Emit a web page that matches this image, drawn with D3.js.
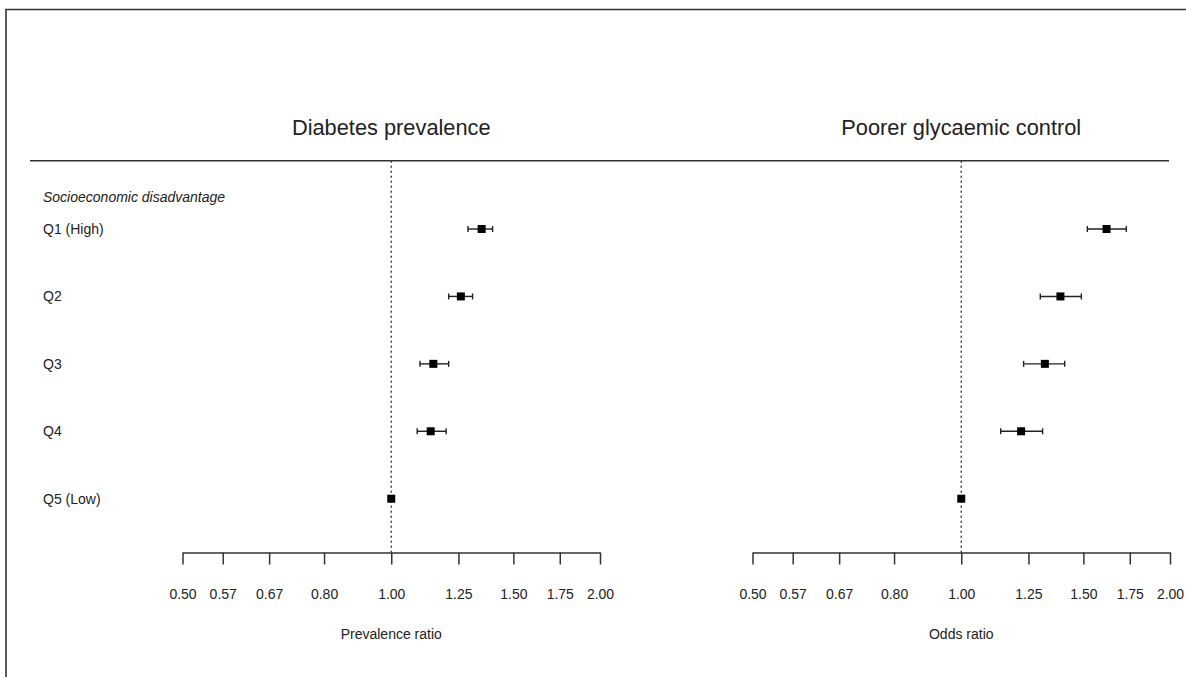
<!DOCTYPE html>
<html>
<head>
<meta charset="utf-8">
<script src="https://cdn.jsdelivr.net/npm/d3@7"></script>
<style>
  body { margin: 0; background: #fff; }
  svg { display: block; font-family: "Liberation Sans", Arial, sans-serif; }
</style>
</head>
<body>
<div id="chart"></div>
<script>
const rows = ["Q1 (High)", "Q2", "Q3", "Q4", "Q5 (Low)"];
const header = "Socioeconomic disadvantage";

const prevEst = [1.35, 1.26, 1.15, 1.14, 1.00];
const prevLo = [1.29, 1.21, 1.10, 1.09, 1.00];
const prevHi = [1.40, 1.31, 1.21, 1.20, 1.00];

const ctrlEst = [1.62, 1.39, 1.32, 1.22, 1.00];
const ctrlLo = [1.52, 1.30, 1.23, 1.14, 1.00];
const ctrlHi = [1.73, 1.49, 1.41, 1.31, 1.00];

const tickValues = [0.50, 1 / 1.75, 1 / 1.5, 1 / 1.25, 1.00, 1.25, 1.50, 1.75, 2.00];

const width = 1186, height = 677;
const ink = "#333";

const svg = d3.select("#chart").append("svg")
    .attr("width", width)
    .attr("height", height);

// frame (top and left edges are all that show)
svg.append("path")
    .attr("d", `M6,${height} L6,9.5 L${width},9.5`)
    .attr("fill", "none")
    .attr("stroke", ink)
    .attr("stroke-width", 1.6);

const y = d3.scalePoint()
    .domain(rows)
    .range([229, 498.7]);

const axisY = 552.5;
const topY = 160.7;

// header rule
svg.append("line")
    .attr("x1", 30).attr("x2", 1169)
    .attr("y1", topY).attr("y2", topY)
    .attr("stroke", ink)
    .attr("stroke-width", 1.5);

// row labels
svg.append("text")
    .attr("x", 43)
    .attr("y", y(rows[0]) - y.step() * 0.47)
    .attr("dy", "0.35em")
    .attr("font-size", 14)
    .attr("font-style", "italic")
    .attr("fill", "#222")
    .text(header);

svg.selectAll(".rowLabel")
    .data(rows)
    .enter().append("text")
    .attr("class", "rowLabel")
    .attr("x", 43)
    .attr("y", d => y(d))
    .attr("dy", "0.35em")
    .attr("font-size", 14)
    .attr("fill", "#222")
    .text(d => d);

const panels = [
    {title: "Diabetes prevalence", label: "Prevalence ratio", range: [182.5, 600], est: prevEst, lo: prevLo, hi: prevHi},
    {title: "Poorer glycaemic control", label: "Odds ratio", range: [752.5, 1170], est: ctrlEst, lo: ctrlLo, hi: ctrlHi}
];

panels.forEach(function (p) {
    const x = d3.scaleLog().domain([0.5, 2]).range(p.range);
    const g = svg.append("g");

    g.append("text")
        .attr("x", x(1))
        .attr("y", 135)
        .attr("text-anchor", "middle")
        .attr("font-size", 21.8)
        .attr("fill", "#222")
        .text(p.title);

    // reference line at 1
    g.append("line")
        .attr("x1", x(1)).attr("x2", x(1))
        .attr("y1", topY).attr("y2", axisY)
        .attr("stroke", "#444")
        .attr("stroke-width", 1.5)
        .attr("stroke-dasharray", "2,3");

    const axis = g.append("g")
        .attr("transform", `translate(0,${axisY})`)
        .call(d3.axisBottom(x)
            .tickValues(tickValues)
            .tickFormat(d3.format(".2f"))
            .tickSize(12)
            .tickSizeOuter(0)
            .tickPadding(25));
    axis.select(".domain").attr("stroke", ink).attr("stroke-width", 1.5);
    axis.selectAll(".tick line").attr("stroke", ink).attr("stroke-width", 1.5);
    axis.selectAll(".tick text")
        .attr("font-size", 14)
        .attr("fill", "#222")
        .attr("font-family", "Liberation Sans, Arial, sans-serif");

    g.append("text")
        .attr("x", x(1))
        .attr("y", 639)
        .attr("text-anchor", "middle")
        .attr("font-size", 14)
        .attr("fill", "#222")
        .text(p.label);

    const data = rows.map((r, i) => ({row: r, est: p.est[i], lo: p.lo[i], hi: p.hi[i]}));

    const ci = g.selectAll(".ci")
        .data(data.filter(d => d.hi > d.lo))
        .enter().append("g")
        .attr("class", "ci")
        .attr("stroke", "#222")
        .attr("stroke-width", 1.4);
    ci.append("line")
        .attr("x1", d => x(d.lo)).attr("x2", d => x(d.hi))
        .attr("y1", d => y(d.row)).attr("y2", d => y(d.row));
    ci.append("line")
        .attr("x1", d => x(d.lo)).attr("x2", d => x(d.lo))
        .attr("y1", d => y(d.row) - 3).attr("y2", d => y(d.row) + 3);
    ci.append("line")
        .attr("x1", d => x(d.hi)).attr("x2", d => x(d.hi))
        .attr("y1", d => y(d.row) - 3).attr("y2", d => y(d.row) + 3);

    g.selectAll(".pt")
        .data(data)
        .enter().append("rect")
        .attr("class", "pt")
        .attr("x", d => x(d.est) - 4)
        .attr("y", d => y(d.row) - 4)
        .attr("width", 8)
        .attr("height", 8)
        .attr("fill", "#000");
});
</script>
</body>
</html>
